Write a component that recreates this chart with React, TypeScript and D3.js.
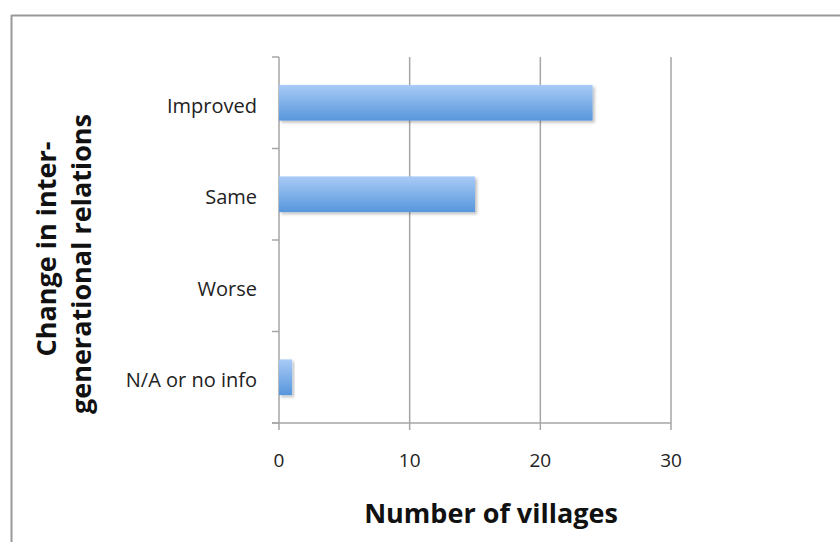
import React from "react";
import * as d3 from "d3";

const categories = ["Improved", "Same", "Worse", "N/A or no info"];
const values = [24, 15, 0, 1];
const xTicks = [0, 10, 20, 30];

const W = 840;
const H = 542;
const margin = { left: 279, right: 169, top: 57, bottom: 119 };
const FONT = "'Open Sans', 'Liberation Sans', sans-serif";

export default function App() {
  const x = d3.scaleLinear().domain([0, 30]).range([margin.left, W - margin.right]);
  const y = d3
    .scaleBand<string>()
    .domain(categories)
    .range([margin.top, H - margin.bottom])
    .paddingInner(0.61)
    .paddingOuter(0.305);
  const band = (H - margin.top - margin.bottom) / categories.length;
  const boundaries = d3.range(categories.length + 1).map((i) => margin.top + i * band);
  const axisY = H - margin.bottom;
  const grid = "#a6a6a6";

  return (
    <svg
      width={W}
      height={H}
      style={{ position: "absolute", left: 0, top: 0, background: "#fff" }}
    >
      <defs>
        <linearGradient id="barFill" x1="0" y1="0" x2="0" y2="1">
          <stop offset="0%" stopColor="#a9cbf7" />
          <stop offset="100%" stopColor="#5796dc" />
        </linearGradient>
        <filter id="barShadow" x="-10%" y="-20%" width="130%" height="160%">
          <feDropShadow dx="2" dy="2" stdDeviation="1.5" floodColor="#000" floodOpacity="0.25" />
        </filter>
      </defs>

      {/* chart frame */}
      <line x1={11.5} y1={15.5} x2={W} y2={15.5} stroke="#999" strokeWidth={2} />
      <line x1={11.5} y1={15} x2={11.5} y2={H} stroke="#999" strokeWidth={2} />

      {/* vertical gridlines */}
      {xTicks.map((t) => (
        <line key={"g" + t} x1={x(t)} x2={x(t)} y1={margin.top} y2={axisY + 7} stroke={grid} strokeWidth={1.5} />
      ))}

      {/* category axis ticks */}
      {boundaries.map((b, i) => (
        <line key={"yt" + i} x1={margin.left - 7} x2={margin.left} y1={b} y2={b} stroke={grid} strokeWidth={1.5} />
      ))}
      <line x1={margin.left - 7} x2={x(30)} y1={axisY} y2={axisY} stroke={grid} strokeWidth={1.5} />

      {/* bars */}
      {categories.map((c, i) =>
        values[i] > 0 ? (
          <rect
            key={c}
            x={x(0)}
            y={y(c)!}
            width={x(values[i]) - x(0)}
            height={y.bandwidth()}
            fill="url(#barFill)"
            filter="url(#barShadow)"
          />
        ) : null
      )}

      {/* category labels */}
      {categories.map((c) => (
        <text
          key={"l" + c}
          x={257}
          y={y(c)! + y.bandwidth() / 2 + 2.5}
          textAnchor="end"
          dominantBaseline="central"
          fontFamily={FONT}
          fontSize={20}
          fill="#222"
        >
          {c}
        </text>
      ))}

      {/* value labels */}
      {xTicks.map((t) => (
        <text
          key={"xl" + t}
          x={x(t)}
          y={460}
          textAnchor="middle"
          dominantBaseline="central"
          fontFamily={FONT}
          fontSize={19}
          fill="#222"
        >
          {t}
        </text>
      ))}

      {/* axis titles */}
      <text
        x={(x(0) + x(30)) / 2 + 16}
        y={512}
        textAnchor="middle"
        dominantBaseline="central"
        fontFamily={FONT}
        fontSize={27}
        fontWeight="bold"
        fill="#111"
      >
        Number of villages
      </text>
      <g transform="translate(45,246) rotate(-90)">
        <text
          x={-3}
          y={0}
          textAnchor="middle"
          dominantBaseline="central"
          fontFamily={FONT}
          fontSize={27}
          fontWeight="bold"
          fill="#111"
        >
          Change in inter-
        </text>
        <text
          x={-18}
          y={35}
          textAnchor="middle"
          dominantBaseline="central"
          fontFamily={FONT}
          fontSize={27}
          fontWeight="bold"
          fill="#111"
        >
          generational relations
        </text>
      </g>
    </svg>
  );
}
